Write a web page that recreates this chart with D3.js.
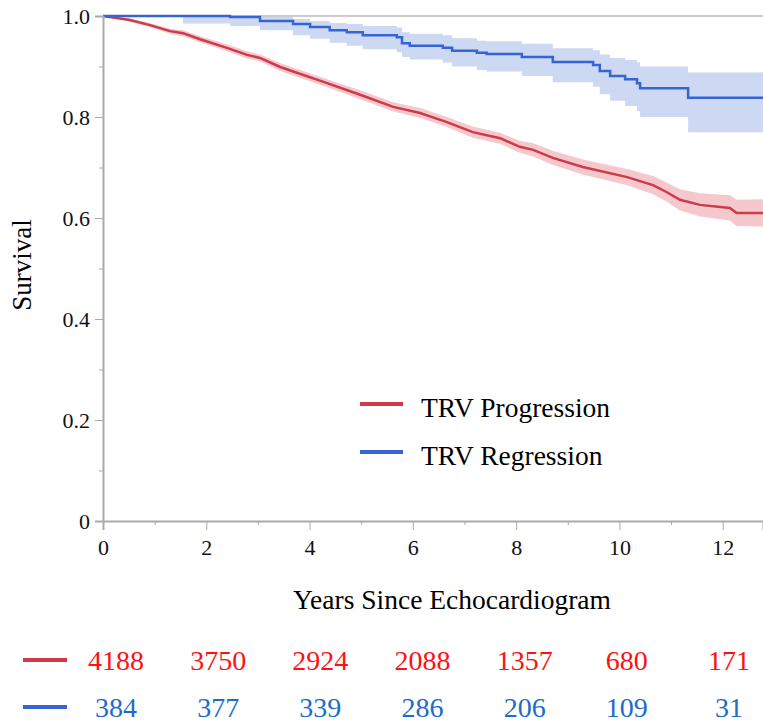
<!DOCTYPE html>
<html>
<head>
<meta charset="utf-8">
<script src="https://cdn.jsdelivr.net/npm/d3@7"></script>
</head>
<body style="margin:0;background:#fff">
<svg id="chart" width="763" height="722" font-family="'Liberation Serif', 'DejaVu Serif', 'Times New Roman', serif"></svg>
<script>
// TRV Progression (red) - Kaplan-Meier estimate and confidence band
const progTime  = [0, 0.52, 0.91, 1.30, 1.55, 1.88, 2.40, 2.79, 3.04, 3.43, 4.34, 4.98, 5.62, 6.14, 6.66, 7.16, 7.69, 8.07, 8.33, 8.71, 9.29, 10.15, 10.65, 10.92, 11.17, 11.56, 12.14, 12.27, 12.78];
const progSurv  = [1.0, 0.992, 0.982, 0.970, 0.966, 0.954, 0.937, 0.923, 0.917, 0.899, 0.867, 0.844, 0.820, 0.808, 0.790, 0.770, 0.758, 0.741, 0.735, 0.719, 0.701, 0.681, 0.665, 0.651, 0.636, 0.626, 0.620, 0.610, 0.610];
const progLower = [1.0, 0.989, 0.978, 0.965, 0.960, 0.948, 0.930, 0.916, 0.910, 0.891, 0.859, 0.835, 0.811, 0.798, 0.780, 0.759, 0.747, 0.729, 0.722, 0.705, 0.686, 0.665, 0.647, 0.632, 0.615, 0.603, 0.595, 0.584, 0.583];
const progUpper = [1.0, 0.995, 0.986, 0.975, 0.972, 0.960, 0.944, 0.930, 0.924, 0.907, 0.875, 0.853, 0.829, 0.818, 0.800, 0.781, 0.769, 0.753, 0.748, 0.733, 0.716, 0.697, 0.683, 0.670, 0.657, 0.649, 0.645, 0.636, 0.637];

// TRV Regression (blue)
const regTime  = [0, 1.55, 2.46, 3.04, 3.68, 4.01, 4.39, 4.72, 5.03, 5.69, 5.79, 5.94, 6.58, 6.76, 7.24, 7.43, 8.11, 8.71, 9.49, 9.62, 9.82, 10.11, 10.34, 10.40, 11.33, 12.78];
const regSurv  = [1.0, 1.0, 0.998, 0.990, 0.984, 0.978, 0.972, 0.968, 0.962, 0.958, 0.946, 0.941, 0.937, 0.931, 0.927, 0.925, 0.919, 0.909, 0.903, 0.891, 0.881, 0.875, 0.867, 0.857, 0.838, 0.838];
const regLower = [1.0, 0.985, 0.980, 0.972, 0.962, 0.955, 0.947, 0.941, 0.934, 0.928, 0.919, 0.914, 0.908, 0.900, 0.893, 0.890, 0.881, 0.869, 0.860, 0.845, 0.832, 0.822, 0.812, 0.800, 0.770, 0.770];
const regUpper = [1.0, 1.0, 1.0, 0.998, 0.994, 0.990, 0.986, 0.984, 0.980, 0.977, 0.968, 0.965, 0.962, 0.956, 0.951, 0.950, 0.945, 0.936, 0.932, 0.924, 0.917, 0.913, 0.908, 0.900, 0.888, 0.888];

// numbers at risk
const riskTimes = [0, 2, 4, 6, 8, 10, 12];
const progRisk = [4188, 3750, 2924, 2088, 1357, 680, 171];
const regRisk  = [384, 377, 339, 286, 206, 109, 31];

const xTicks = [0, 2, 4, 6, 8, 10, 12];
const yTicks = [0, 0.2, 0.4, 0.6, 0.8, 1.0];

const FONT = "'Liberation Serif', 'DejaVu Serif', 'Times New Roman', serif";

const svg = d3.select("#chart"),
  margin = { top: 16, left: 103 },
  width = 763 - margin.left,
  height = 505;

const x = d3.scaleLinear().domain([0, 12.78]).range([margin.left, margin.left + width]);
const y = d3.scaleLinear().domain([0, 1]).range([margin.top + height, margin.top]);

const series = [
  { time: progTime, surv: progSurv, lo: progLower, hi: progUpper, line: "#cf3a4b", band: "#f5c8cd", curve: d3.curveLinear },
  { time: regTime, surv: regSurv, lo: regLower, hi: regUpper, line: "#3565d4", band: "#cdd8f3", curve: d3.curveStepAfter }
];

// frame top line
svg.append("line")
  .attr("x1", x(0)).attr("x2", x(12.78))
  .attr("y1", y(1)).attr("y2", y(1))
  .attr("stroke", "#bbb").attr("stroke-width", 1.5);

series.forEach(s => {
  const rows = s.time.map((t, i) => ({ t: t, s: s.surv[i], lo: s.lo[i], hi: s.hi[i] }));
  const area = d3.area()
    .curve(s.curve)
    .x(d => x(d.t))
    .y0(d => y(d.lo))
    .y1(d => y(d.hi));
  svg.append("path")
    .datum(rows)
    .attr("fill", s.band)
    .attr("d", area);
});

series.forEach(s => {
  const rows = s.time.map((t, i) => ({ t: t, s: s.surv[i] }));
  const line = d3.line()
    .curve(s.curve)
    .x(d => x(d.t))
    .y(d => y(d.s));
  svg.append("path")
    .datum(rows)
    .attr("fill", "none")
    .attr("stroke", s.line)
    .attr("stroke-width", 2.5)
    .attr("d", line);
});

// axes
function styleAxis(g) {
  g.attr("font-family", FONT).attr("font-size", 22);
  g.selectAll("path, line").attr("stroke", "#aaa");
  g.selectAll("path.domain").attr("stroke-width", 2);
  g.selectAll("text")
    .attr("fill", "#111")
    .attr("font-family", FONT)
    .attr("font-size", 22);
}

svg.append("g")
  .attr("transform", `translate(${margin.left},0)`)
  .call(d3.axisLeft(y).tickValues(yTicks).tickSize(8).tickPadding(5)
    .tickFormat(d => d === 0 ? "0" : d3.format(".1f")(d)))
  .call(styleAxis);
svg.append("g")
  .attr("transform", `translate(${margin.left},0)`)
  .call(d3.axisLeft(y).tickValues([0.1, 0.3, 0.5, 0.7, 0.9]).tickSize(4).tickFormat(""))
  .call(styleAxis)
  .select(".domain").remove();

svg.append("g")
  .attr("transform", `translate(0,${margin.top + height})`)
  .call(d3.axisBottom(x).tickValues(xTicks).tickSize(9).tickPadding(9).tickFormat(d3.format("d")))
  .call(styleAxis);
svg.append("g")
  .attr("transform", `translate(0,${margin.top + height})`)
  .call(d3.axisBottom(x).tickValues([1, 3, 5, 7, 9, 11]).tickSize(4).tickFormat(""))
  .call(styleAxis)
  .select(".domain").remove();

// axis titles
svg.append("text")
  .attr("transform", "translate(31,265) rotate(-90)")
  .attr("text-anchor", "middle")
  .attr("font-family", FONT)
  .attr("font-size", 27)
  .text("Survival");

svg.append("text")
  .attr("x", 452).attr("y", 609)
  .attr("text-anchor", "middle")
  .attr("font-family", FONT)
  .attr("font-size", 27.5)
  .text("Years Since Echocardiogram");

// legend
const legend = [
  { label: "TRV Progression", color: "#cf3a4b", y: 404 },
  { label: "TRV Regression", color: "#3565d4", y: 452 }
];
legend.forEach(l => {
  svg.append("line")
    .attr("x1", 360).attr("x2", 403)
    .attr("y1", l.y).attr("y2", l.y)
    .attr("stroke", l.color).attr("stroke-width", 4);
  svg.append("text")
    .attr("x", 421).attr("y", l.y + 13)
    .attr("font-family", FONT)
    .attr("font-size", 27.5)
    .text(l.label);
});

// numbers at risk
const riskX = d3.scaleLinear().domain([0, 12]).range([116, 729]);
const riskRows = [
  { values: progRisk, line: "#cf3a4b", text: "#ff1111", y: 660 },
  { values: regRisk, line: "#3565d4", text: "#1d6bcb", y: 707 }
];
riskRows.forEach(r => {
  svg.append("line")
    .attr("x1", 23).attr("x2", 67)
    .attr("y1", r.y).attr("y2", r.y)
    .attr("stroke", r.line).attr("stroke-width", 4);
  svg.selectAll(null)
    .data(riskTimes)
    .enter()
    .append("text")
    .attr("x", d => riskX(d))
    .attr("y", r.y + 10)
    .attr("text-anchor", "middle")
    .attr("font-family", FONT)
    .attr("font-size", 28)
    .attr("fill", r.text)
    .text((d, i) => r.values[i]);
});
</script>
</body>
</html>
